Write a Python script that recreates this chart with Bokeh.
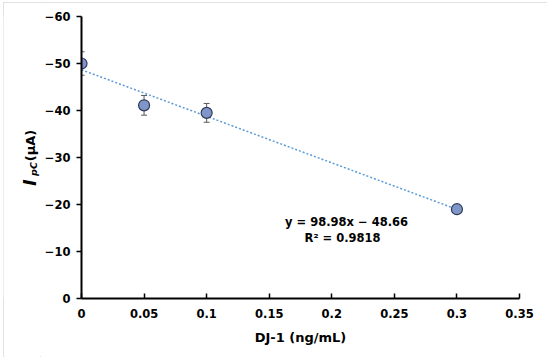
from bokeh.plotting import figure
from bokeh.models import Range1d, FixedTicker, Label, Whisker, ColumnDataSource, TeeHead
from bokeh.layouts import row
from bokeh.core.properties import value
from bokeh.embed import file_html
from bokeh.resources import INLINE
import math

# ---- data ----
conc = [0.0, 0.05, 0.1, 0.3]            # DJ-1 (ng/mL)
ipc = [-50.0, -41.1, -39.5, -19.0]      # IpC (uA)
err = [2.5, 2.1, 2.0, 0.5]

slope = 98.98
intercept = -48.66
fit_x = [0.0, 0.3]

x_ticks = [0, 0.05, 0.1, 0.15, 0.2, 0.25, 0.3, 0.35]
x_tick_labels = ["0", "0.05", "0.1", "0.15", "0.2", "0.25", "0.3", "0.35"]
y_ticks = [0, -10, -20, -30, -40, -50, -60]
y_tick_labels = ["0", "\u221210", "\u221220", "\u221230", "\u221240", "\u221250", "\u221260"]

FONT = "DejaVu Sans"
H = 355
LAB_W = 37
TOP, BOTTOM = 14, 59

# ---- main plot ----
p = figure(width=544 - LAB_W, height=H, x_range=Range1d(0, 0.35), y_range=Range1d(0, -60),
           output_backend="svg", toolbar_location=None,
           min_border_left=41, min_border_right=28, min_border_top=TOP, min_border_bottom=BOTTOM)
p.outline_line_color = None
p.grid.visible = False
p.background_fill_color = "white"
p.border_fill_color = "white"

for ax in (p.xaxis[0], p.yaxis[0]):
    ax.axis_line_color = "black"
    ax.axis_line_width = 2
    ax.major_tick_line_color = "black"
    ax.major_tick_line_width = 1.5
    ax.minor_tick_line_color = None
    ax.major_label_text_font = FONT
    ax.major_label_text_font_style = "bold"
    ax.major_label_text_font_size = "11.5px"
    ax.major_label_text_color = "black"

p.xaxis.ticker = FixedTicker(ticks=x_ticks)
p.xaxis.major_label_overrides = {t: l for t, l in zip(x_ticks, x_tick_labels)}
p.xaxis.major_tick_in = 5
p.xaxis.major_tick_out = 0
p.xaxis.major_label_standoff = 10
p.xaxis.axis_label = "DJ-1 (ng/mL)"
p.xaxis.axis_label_text_font = FONT
p.xaxis.axis_label_text_font_style = "bold"
p.xaxis.axis_label_text_font_size = "13px"
p.xaxis.axis_label_text_color = "black"
p.xaxis.axis_label_standoff = 9

p.yaxis.ticker = FixedTicker(ticks=y_ticks)
p.yaxis.major_label_overrides = {t: l for t, l in zip(y_ticks, y_tick_labels)}
p.yaxis.major_tick_in = 0
p.yaxis.major_tick_out = 5
p.yaxis.major_label_standoff = 6

# trend line
fit_y = [slope * x + intercept for x in fit_x]
p.line(fit_x, fit_y, line_color="#5B9BD5", line_width=1.5, line_dash="2 2")

# error bars
src = ColumnDataSource(dict(x=conc, y=ipc,
                            upper=[v - e for v, e in zip(ipc, err)],
                            lower=[v + e for v, e in zip(ipc, err)]))
wh = Whisker(base="x", upper="upper", lower="lower", source=src, dimension="height",
             line_color="#595959", line_width=1, level="underlay",
             upper_head=TeeHead(size=6, line_color="#595959", line_width=1),
             lower_head=TeeHead(size=6, line_color="#595959", line_width=1))
p.add_layout(wh)

# markers
p.scatter("x", "y", source=src, size=11, fill_color="#8096C8",
          line_color="#2F3A5A", line_width=1.2)

# regression equation
p.add_layout(Label(x=0.2118, y=-16.36, text="y = 98.98x \u2212 48.66", text_align="center",
                   text_baseline="middle", text_font=FONT, text_font_style="bold",
                   text_font_size="11.5px", text_color="black"))
p.add_layout(Label(x=0.2086, y=-12.96, text="R\u00b2 = 0.9818", text_align="center",
                   text_baseline="middle", text_font=FONT, text_font_style="bold",
                   text_font_size="11.5px", text_color="black"))

# ---- y-axis title strip (rich text: italic I with subscript pC) ----
# The row aligns this strip's frame with the main plot's frame, so its y range
# is expressed in strip pixels measured from the top of the strip.
lab = figure(width=LAB_W, height=H, x_range=Range1d(0, LAB_W),
             y_range=Range1d(H - BOTTOM, TOP),
             x_axis_type=None, y_axis_type=None, output_backend="svg",
             toolbar_location=None, min_border=0)
lab.outline_line_color = None
lab.grid.visible = False
lab.border_fill_color = "white"

# (text, style, size, centre x, centre y)
ylab_parts = [("I", "bold italic", "17px", 26.5, 180),
              ("pC", "bold italic", "9.5px", 30.3, 166.5),
              ("(\u00b5A)", "bold", "13px", 26.7, 143)]
for txt, style, size, tx, ty in ylab_parts:
    lab.text(x=[tx], y=[ty], text=[txt], angle=math.pi / 2,
             text_align="center", text_baseline="middle",
             text_font=value(FONT), text_font_style=value(style),
             text_font_size=value(size), text_color="black")

lay = row(lab, p, spacing=0)
lay.styles = {"margin-left": "3px", "margin-top": "2px",
              "outline": "1px solid #d9d9d9", "outline-offset": "-1px"}

open("out.html", "w").write(file_html(lay, INLINE))
